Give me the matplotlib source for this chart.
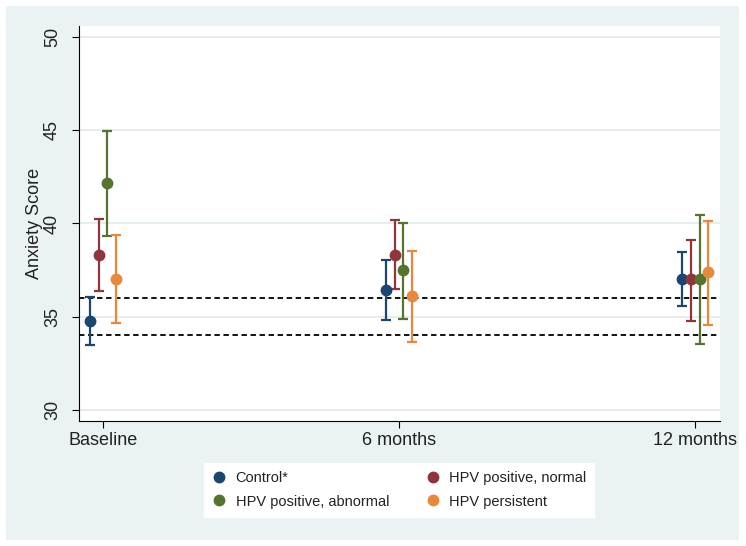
import matplotlib.pyplot as plt
from matplotlib.patches import Rectangle

plt.rcParams['font.family'] = ['Liberation Sans', 'DejaVu Sans']

timepoints = ["Baseline", "6 months", "12 months"]
groups = ["Control*", "HPV positive, normal", "HPV positive, abnormal", "HPV persistent"]
colors = ["#1A476F", "#90353B", "#55752F", "#E8883A"]

# mean, lower CI, upper CI per group (rows) at each timepoint (cols)
means = [
    [34.75, 36.45, 37.03],
    [38.3, 38.33, 37.0],
    [42.15, 37.5, 37.0],
    [37.03, 36.09, 37.4],
]
lower = [
    [33.5, 34.84, 35.55],
    [36.4, 36.5, 34.78],
    [39.35, 34.9, 33.55],
    [34.66, 33.62, 34.57],
]
upper = [
    [36.06, 38.06, 38.48],
    [40.25, 40.2, 39.14],
    [44.96, 40.04, 40.48],
    [39.4, 38.55, 40.16],
]
offsets = [-0.045, -0.015, 0.015, 0.045]
ref_lines = [34, 36]

fig = plt.figure(figsize=(7.46, 5.46), dpi=100)
fig.patch.set_facecolor("white")
fig.patches.append(Rectangle((6 / 746, 6 / 546), 733 / 746, 534 / 546,
                             transform=fig.transFigure, facecolor="#EAF2F3",
                             edgecolor="none", zorder=-5))

ax = fig.add_axes([79 / 746, 125 / 546, 641 / 746, 395 / 546])
ax.set_facecolor("white")

for i in range(4):
    xs = [t + offsets[i] for t in range(3)]
    yerr = [[m - l for m, l in zip(means[i], lower[i])],
            [u - m for m, u in zip(means[i], upper[i])]]
    ax.errorbar(xs, means[i], yerr=yerr, fmt="o", color=colors[i],
                markersize=7.5, elinewidth=1.6, capsize=3.8, capthick=1.6,
                label=groups[i], zorder=3)

for y in ref_lines:
    ax.axhline(y, color="black", linestyle=(0, (3, 2)), linewidth=1.3, zorder=2)

ax.set_ylim(29.4, 50.6)
ax.set_xlim(-0.081, 2.084)
ax.set_yticks([30, 35, 40, 45, 50])
ax.set_xticks(range(3))
ax.set_xticklabels(timepoints, fontsize=13, color="#222222")
ax.tick_params(axis="y", labelsize=13, labelrotation=90, length=5, pad=8,
               labelcolor="#222222")
ax.tick_params(axis="x", length=5, pad=3)
for lab in ax.get_yticklabels():
    lab.set_va("center")
ax.yaxis.grid(True, color="#E3ECEF", linewidth=1.3)
ax.set_axisbelow(True)
ax.set_ylabel("Anxiety Score", fontsize=13, labelpad=1, color="#222222")
for s in ["top", "right"]:
    ax.spines[s].set_visible(False)

handles, labels = ax.get_legend_handles_labels()
order = [0, 2, 1, 3]
leg = fig.legend([handles[k][0] for k in order], [labels[k] for k in order],
                 ncol=2, loc="center", bbox_to_anchor=(0.535, 0.103),
                 fontsize=10.5, frameon=True, fancybox=False, framealpha=1,
                 handletextpad=0.6, columnspacing=2.5, borderpad=0.55,
                 handlelength=1.0, labelspacing=0.65)
leg.get_frame().set_edgecolor("white")
leg.get_frame().set_facecolor("white")
for t in leg.get_texts():
    t.set_color("#222222")

fig.savefig("out.png", dpi=100)
